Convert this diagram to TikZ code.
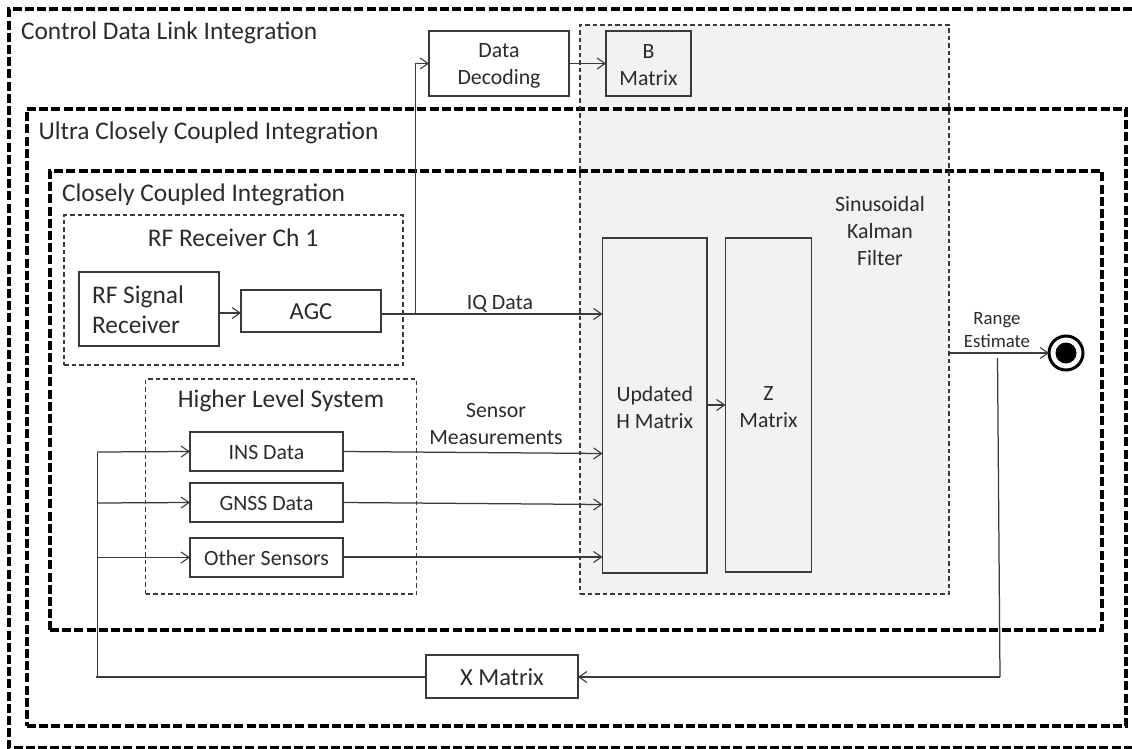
\documentclass[tikz,border=0pt]{standalone}
\usepackage{fontspec}
\setmainfont{Carlito}
\usetikzlibrary{arrows.meta}
\definecolor{ink}{HTML}{3A3A3A}
\definecolor{txt}{HTML}{2B2B2B}
\definecolor{pane}{HTML}{F2F2F2}
\tikzset{
 x=1pt,y=-1pt,
 every node/.style={inner sep=0pt,outer sep=0pt,text=txt},
 every label/.style={inner sep=0pt,outer sep=0pt,text=txt},
 big/.style={font=\fontsize{25.4}{30}\selectfont},
 mid/.style={font=\fontsize{24.5}{27}\selectfont,align=center},
 small/.style={font=\fontsize{21.8}{27}\selectfont,align=center},
 tiny/.style={font=\fontsize{18.8}{23}\selectfont,align=center},
 heavy/.style={draw=black,line width=3.5pt,dash pattern=on 9pt off 3.2pt},
 thin/.style={draw=ink,line width=1.05pt,dash pattern=on 4.5pt off 3pt},
 solidbox/.style={draw=ink,line width=1.35pt,anchor=north west},
 link/.style={draw=ink,line width=1.25pt,-{Straight Barb[length=8pt,width=11pt,line width=1.1pt]}},
 plain/.style={draw=ink,line width=1.25pt},
}
\begin{document}
\begin{tikzpicture}
\useasboundingbox (0,0) rectangle (1132,749);
% shaded filter pane
\fill[pane] (580,25) rectangle (949,594);
% integration frames
\draw[heavy] (1132,9) -- (9,9) -- (9,748) -- (1132,748);
\node[heavy,anchor=north west,minimum width=1099pt,minimum height=617pt] (ultra) at (27,109) {};
\node[heavy,anchor=north west,minimum width=1052pt,minimum height=459pt] (close) at (50,171) {};
% thin dashed groups
\node[thin,anchor=north west,minimum width=369pt,minimum height=569pt] (kalman) at (580,25) {};
\node[thin,anchor=north west,minimum width=339pt,minimum height=150pt] (rfgroup) at (64,215) {};
\node[thin,anchor=north west,minimum width=271pt,minimum height=215pt] (hlgroup) at (145.5,379) {};
% boxes
\node[solidbox,minimum width=140pt,minimum height=74pt] (rfsig) at (79,272) {};
\node[font=\fontsize{25.4}{30}\selectfont,align=left,anchor=west] (rfsigt) at (92,310) {RF Signal\\Receiver};
\node[solidbox,minimum width=140pt,minimum height=42pt,label={[mid,yshift=-1pt]center:AGC}] (agc) at (241,290) {};
\node[solidbox,minimum width=140pt,minimum height=65pt,label={[small,yshift=-2pt]center:Data\\Decoding}] (decode) at (429,31) {};
\node[solidbox,minimum width=85pt,minimum height=65pt,label={[small,yshift=-2pt]center:B\\Matrix}] (bmat) at (606,31) {};
\node[solidbox,minimum width=104.5pt,minimum height=335pt,fill=pane,label={[small,yshift=-2pt]center:Updated\\H Matrix}] (hmat) at (602.5,238) {};
\node[solidbox,minimum width=86pt,minimum height=334pt,fill=pane,label={[small,yshift=-2pt]center:Z\\Matrix}] (zmat) at (725.5,238) {};
\node[solidbox,minimum width=153pt,minimum height=39pt,label={[small,yshift=-1pt]center:INS Data}] (ins) at (190,432) {};
\node[solidbox,minimum width=153pt,minimum height=39pt,label={[small,yshift=-1pt]center:GNSS Data}] (gnss) at (190,483) {};
\node[solidbox,minimum width=153pt,minimum height=39pt,label={[small,yshift=-1pt]center:Other Sensors}] (other) at (190,538) {};
\node[solidbox,minimum width=152pt,minimum height=43pt,label={[mid,yshift=-1pt]center:X Matrix}] (xmat) at (426,655) {};
% end state
\node[circle,draw=black,line width=3pt,minimum size=34pt] (stop) at (1066,353) {};
\node[circle,fill=black,minimum size=21pt] (stopdot) at (1066,353) {};
% labels
\node[big,anchor=west] (t1) at (21,33) {Control Data Link Integration};
\node[big,anchor=west] (t2) at (38.5,133) {Ultra Closely Coupled Integration};
\node[big,anchor=west] (t3) at (62,194.5) {Closely Coupled Integration};
\node[big] (t4) at (233,238) {RF Receiver Ch 1};
\node[big] (t5) at (281,401) {Higher Level System};
\node[small] (t6) at (500,304) {IQ Data};
\node[small] (t7) at (496,424.5) {Sensor\\Measurements};
\node[small] (t8) at (880,231.5) {Sinusoidal\\Kalman\\Filter};
\node[tiny] (t9) at (997,330) {Range\\Estimate};
% junctions
\coordinate (tapiq) at (415.5,314);
\coordinate (iqin) at (602.5,314);
\coordinate (insin) at (602.5,453.5);
\coordinate (gnssin) at (602.5,504.5);
\coordinate (otherin) at (602.5,557);
\coordinate (rout) at (949,353);
\coordinate (rtap) at (997.5,358);
\coordinate (rcor) at (1000,677);
\coordinate (busend) at (96,677);
\coordinate (busins) at (97.5,452);
\coordinate (busgnss) at (97.5,503);
\coordinate (busoth) at (97.5,557.5);
% connectors
\draw[link] (rfsig.east |- 0,313) -- (agc.west |- 0,313);
\draw[plain] (agc.east |- 0,314) -- (tapiq);
\draw[link] (tapiq) -- (iqin);
\draw[link] (tapiq) |- (decode.west);
\draw[link] (decode.east) -- (bmat.west |- decode.east);
\draw[link] (hmat.east |- 0,405) -- (zmat.west |- 0,405);
\draw[link] (ins.east) -- (insin);
\draw[link] (gnss.east) -- (gnssin);
\draw[link] (other.east |- 0,557) -- (otherin);
\draw[link] (rout) -- (stop.west);
\draw[plain,line join=miter] (rtap) -- (rcor);
\draw[link] (rcor) -- (xmat.east |- rcor);
\draw[plain] (xmat.west |- busend) -- (busend);
\draw[plain] (busins) -- (97.5,677);
\draw[link] (busins) -- (ins.west);
\draw[link] (busgnss) -- (gnss.west);
\draw[link] (busoth) -- (other.west |- busoth);
\end{tikzpicture}
\end{document}
